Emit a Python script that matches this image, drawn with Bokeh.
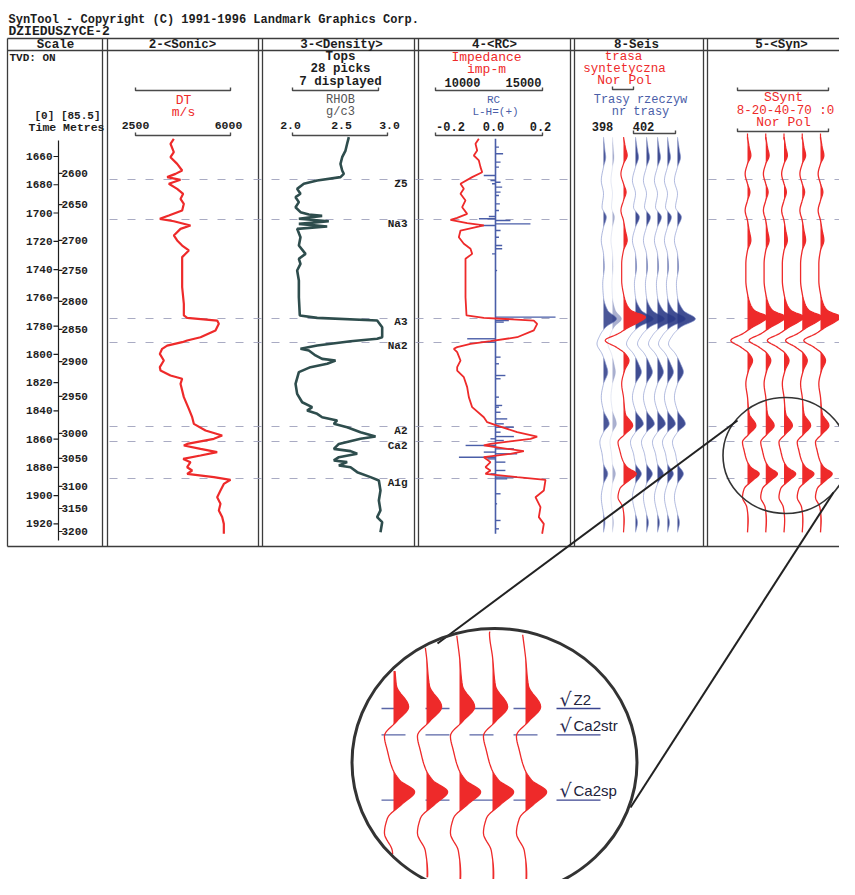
import numpy as np
from bokeh.plotting import figure
from bokeh.models import Range1d
from bokeh.core.properties import value
from bokeh.embed import file_html
from bokeh.resources import INLINE

# ---------------- data ----------------
TITLE = "SynTool - Copyright (C) 1991-1996 Landmark Graphics Corp."
WELL = "DZIEDUSZYCE-2"
TRACK_TITLES = ["Scale", "2-<Sonic>", "3-<Density>", "4-<RC>", "8-Seis", "5-<Syn>"]

TIME_TICKS = [1660, 1680, 1700, 1720, 1740, 1760, 1780, 1800, 1820, 1840, 1860, 1880, 1900, 1920]
TIME_LABELS = [str(v) for v in TIME_TICKS]
DEPTH_LABELS = ["2600", "2650", "2700", "2750", "2800", "2850", "2900", "2950",
                "3000", "3050", "3100", "3150", "3200"]
DEPTH_TIMES = [1672.0, 1694.0, 1719.4, 1740.6, 1762.6, 1782.4, 1805.1, 1829.8,
               1856.0, 1873.7, 1893.5, 1909.1, 1925.4]

TOP_NAMES = ["Z5", "Na3", "A3", "Na2", "A2", "Ca2", "A1g"]
TOP_TIMES = [1676.3, 1704.6, 1774.6, 1791.6, 1851.1, 1861.7, 1887.9]
ZOOM_TOP_NAMES = ["Z2", "Ca2str", "Ca2sp"]

DT_TIME = [1647.5, 1651.0, 1656.9, 1660.5, 1665.2, 1669.9, 1672.3, 1674.6, 1676.5, 1679.3,
           1682.9, 1686.4, 1690.0, 1693.5, 1698.2, 1701.8, 1704.1, 1705.8, 1708.8, 1711.2,
           1715.9, 1719.4, 1723.0, 1726.5, 1731.2, 1740.7, 1752.5, 1764.3, 1772.5, 1774.2,
           1776.1, 1778.4, 1783.1, 1787.9, 1790.2, 1791.4, 1793.8, 1796.1, 1799.7, 1804.4,
           1809.1, 1811.5, 1815.0, 1817.3, 1820.9, 1830.3, 1838.6, 1844.5, 1849.2, 1853.9,
           1857.5, 1859.8, 1863.4, 1864.5, 1866.9, 1869.2, 1871.6, 1874.0, 1876.3, 1879.9,
           1882.2, 1884.6, 1886.9, 1888.8, 1891.7, 1896.4, 1901.1, 1905.8, 1910.5, 1915.2,
           1920.0, 1927.0]
DT_VALUE = [3912, 3789, 3912, 3789, 4035, 4219, 3974, 3667, 4158, 3728,
            4035, 4256, 4158, 4281, 4219, 3728, 3396, 3912, 4526, 4158,
            3912, 4035, 4219, 4465, 4219, 4219, 4219, 4281, 4281, 4403,
            5509, 5570, 5447, 4895, 4403, 4219, 3667, 3482, 3396, 3544,
            3396, 3421, 3789, 4219, 4158, 4281, 4465, 4588, 4649, 5079,
            5693, 5386, 4403, 4281, 4895, 5509, 4895, 4256, 4526, 4403,
            4588, 4403, 5386, 6000, 5754, 5631, 5509, 5631, 5570, 5693,
            5754, 5754]

RHOB_TIME = [1646.3, 1651.0, 1655.8, 1660.5, 1665.2, 1669.9, 1672.3, 1674.6, 1677.0, 1679.3,
             1682.9, 1686.4, 1688.8, 1692.3, 1695.9, 1699.4, 1701.1, 1702.0, 1704.1, 1705.8,
             1707.7, 1709.5, 1711.2, 1717.1, 1723.0, 1728.9, 1732.4, 1736.0, 1740.7, 1747.8,
             1759.6, 1772.5, 1774.2, 1776.1, 1780.8, 1787.9, 1789.0, 1790.7, 1793.8, 1796.1,
             1797.3, 1800.8, 1803.2, 1804.4, 1806.7, 1809.1, 1812.6, 1820.9, 1828.0, 1833.9,
             1837.4, 1839.8, 1842.1, 1844.5, 1846.8, 1849.2, 1851.6, 1855.1, 1858.2, 1859.8,
             1863.4, 1866.9, 1868.5, 1870.4, 1872.8, 1875.1, 1876.3, 1878.7, 1879.9, 1883.4,
             1886.9, 1889.3, 1896.4, 1903.5, 1910.5, 1915.2, 1918.8, 1925.9]
RHOB_VALUE = [2.593, 2.575, 2.558, 2.523, 2.505, 2.523, 2.540, 2.505, 2.260, 2.119,
              2.049, 2.084, 2.032, 2.067, 2.032, 2.084, 2.172, 2.312, 2.067, 2.382,
              2.067, 2.365, 2.049, 2.084, 2.067, 2.137, 2.067, 2.084, 2.049, 2.067,
              2.067, 2.077, 2.260, 2.891, 2.944, 2.944, 2.891, 2.611, 2.260, 2.084,
              2.172, 2.242, 2.312, 2.453, 2.365, 2.189, 2.067, 2.032, 2.049, 2.102,
              2.207, 2.154, 2.260, 2.312, 2.470, 2.435, 2.575, 2.716, 2.874, 2.716,
              2.488, 2.435, 2.611, 2.681, 2.488, 2.435, 2.575, 2.488, 2.611, 2.681,
              2.821, 2.909, 2.926, 2.909, 2.926, 2.891, 2.944, 2.926]

IMP_TIME = [1647.5, 1651.0, 1655.8, 1659.3, 1662.8, 1667.5, 1671.1, 1674.6, 1679.3, 1682.9,
            1686.4, 1691.1, 1695.9, 1700.6, 1703.4, 1704.8, 1707.2, 1708.8, 1712.4, 1717.1,
            1721.8, 1725.3, 1728.9, 1732.4, 1740.7, 1759.6, 1772.5, 1774.2, 1776.1, 1778.4,
            1783.1, 1787.9, 1790.7, 1792.6, 1794.9, 1796.1, 1798.5, 1804.4, 1809.1, 1811.5,
            1816.2, 1823.2, 1830.3, 1837.4, 1844.5, 1848.0, 1850.4, 1855.1, 1858.2, 1859.8,
            1863.4, 1864.5, 1866.9, 1868.5, 1870.4, 1872.8, 1876.3, 1879.9, 1882.2, 1884.6,
            1886.9, 1888.8, 1896.4, 1901.1, 1908.2, 1915.2, 1920.0, 1927.0]
IMP_VALUE = [11339, 11065, 11202, 10929, 11339, 11475, 11612, 10792, 9836, 10109,
             9836, 10246, 9973, 10382, 9563, 9016, 10382, 11748, 9836, 9699,
             10109, 10656, 10792, 10246, 10246, 10246, 10328, 11748, 15846, 16120,
             15846, 14480, 12295, 10656, 9563, 9290, 9563, 9836, 9563, 9563,
             10109, 10382, 10519, 10792, 11748, 12022, 12841, 14480, 16120, 15573,
             12295, 11748, 13661, 15027, 13934, 11748, 12295, 11885, 12295, 11885,
             14480, 16803, 16666, 15983, 16393, 16256, 16666, 16530]

RC_TIME = [1653.4, 1658.1, 1664.0, 1667.5, 1673.4, 1677.0, 1678.2, 1679.3, 1681.7, 1685.2,
           1687.6, 1693.5, 1698.2, 1702.5, 1704.1, 1705.3, 1707.7, 1708.8, 1712.4, 1717.1,
           1723.0, 1725.3, 1728.9, 1740.7, 1773.7, 1776.1, 1777.2, 1789.0, 1791.4, 1802.0,
           1806.7, 1815.0, 1817.3, 1830.3, 1836.2, 1837.4, 1841.0, 1845.7, 1849.2, 1851.6,
           1855.1, 1858.2, 1859.8, 1861.0, 1864.5, 1866.9, 1869.2, 1870.4, 1872.8, 1874.0,
           1876.3, 1882.2, 1884.6, 1886.9, 1888.1, 1898.7, 1905.8, 1917.6, 1923.5]
RC_VALUE = [0.015, 0.033, 0.022, 0.015, -0.051, -0.022, 0.022, -0.015, 0.029, 0.022,
            0.015, 0.019, 0.015, -0.029, -0.072, 0.065, 0.152, -0.072, 0.022, 0.015,
            0.029, 0.029, -0.015, 0.007, 0.261, 0.058, 0.036, -0.123, -0.065, 0.022,
            0.015, 0.043, 0.022, 0.015, 0.029, 0.015, 0.022, 0.051, 0.036, 0.080,
            0.022, 0.080, -0.022, 0.036, -0.130, 0.080, -0.051, 0.094, -0.159, -0.036,
            0.043, 0.043, -0.022, 0.094, 0.051, 0.022, 0.007, 0.022, 0.015]

SYN_TIME = [1646.3, 1653.4, 1659.3, 1665.2, 1672.3, 1679.3, 1685.2, 1691.1, 1698.2, 1705.3,
            1712.4, 1719.4, 1726.5, 1736.0, 1747.8, 1757.2, 1765.4, 1769.0, 1773.7, 1777.2,
            1780.8, 1785.5, 1790.2, 1794.9, 1799.7, 1804.4, 1811.5, 1820.9, 1830.3, 1842.1,
            1850.4, 1856.3, 1862.2, 1868.1, 1875.1, 1879.9, 1884.6, 1889.3, 1895.2, 1901.1,
            1908.2, 1917.6, 1926.0]
SYN_AMP = [0.0, 0.083, 0.167, 0.0, -0.117, 0.0, 0.117, 0.0, -0.117, 0.0,
           0.083, 0.167, 0.0, -0.083, -0.083, 0.0, 0.167, 0.35, 1.0, 0.7,
           0.25, -0.25, -0.833, -0.333, 0.083, 0.25, 0.05, -0.083, 0.0, 0.083,
           0.417, 0.083, -0.25, -0.167, -0.033, 0.167, 0.583, 0.25, -0.167, -0.25,
           -0.033, 0.033, 0.0]

REAL_TIME = [1646.3, 1655.8, 1660.5, 1667.5, 1677.0, 1686.4, 1695.9, 1702.9, 1710.0, 1719.4,
             1728.9, 1738.3, 1750.1, 1759.6, 1769.0, 1774.9, 1780.8, 1786.7, 1792.6, 1799.7,
             1806.7, 1812.6, 1820.9, 1830.3, 1839.8, 1849.2, 1855.1, 1862.2, 1870.4, 1877.5,
             1884.6, 1891.7, 1901.1, 1912.9, 1919.0, 1926.0]
REAL_AMP = [0.0, 0.11, 0.17, 0.0, -0.17, 0.0, -0.11, 0.22, 0.0, -0.17,
            0.0, 0.06, -0.06, 0.0, 0.33, 1.0, 0.17, -0.28, -0.5, -0.11,
            0.17, 0.33, 0.0, -0.17, 0.0, 0.44, 0.0, -0.28, -0.11, 0.0,
            0.33, 0.0, -0.17, 0.0, 0.11, 0.0]

# ---------------- layout / styles ----------------
W, H = 839, 879
X0, Y0 = 0, 0          # picture pixel of the plot's top-left corner
RED = "#ee2a2a"
BLUE = "#4a5ea8"
INK = "#1d1d1d"
FRAME = "#3c3c3c"
FONT = value("Liberation Mono")

Y_1660, PX_PER_MS = 156.0, 1.413  # picture y of 1660 ms, pixels per ms


def t_at(y):
    return 1660 + (y - Y_1660) / PX_PER_MS


def xr(v1, x1, v2, x2):
    k = (v2 - v1) / (x2 - x1)
    return Range1d(v1 + (X0 - x1) * k, v1 + (X0 + W - x1) * k)


p = figure(width=W, height=H, x_range=Range1d(X0, X0 + W), y_range=Range1d(Y0 + H, Y0),
           output_backend="svg", toolbar_location=None, min_border=0,
           x_axis_type=None, y_axis_type=None)
p.outline_line_color = None
p.grid.visible = False
p.background_fill_color = "white"
p.border_fill_color = "white"

p.extra_y_ranges["time"] = Range1d(t_at(Y0 + H), t_at(Y0))
p.extra_x_ranges["dt"] = xr(2500, 135, 6000, 230)
p.extra_x_ranges["rhob"] = xr(2.0, 292, 3.0, 387)
p.extra_x_ranges["imp"] = xr(10000, 462, 15000, 523)
p.extra_x_ranges["rc"] = xr(-0.2, 449, 0.2, 541)
p.extra_x_ranges["seis"] = xr(0, 603, 1, 613)
p.extra_x_ranges["syn"] = xr(1, 747, 5, 820)
p.extra_x_ranges["zx"] = xr(1, 393, 5, 525)
Z_Y_REF, Z_PX_PER_MS = 708.0, 2.49
T_REF = TOP_TIMES[4]
p.extra_y_ranges["zt"] = Range1d(T_REF + (Y0 + H - Z_Y_REF) / Z_PX_PER_MS,
                                 T_REF + (Y0 - Z_Y_REF) / Z_PX_PER_MS)


def T(x, y, s, size=12, color=INK, align="center", bold=True, font=FONT,
      xrn="default", yrn="default", baseline="middle", yoff=0):
    p.text(x=[x], y=[y], text=[s], text_font=font, text_font_size=f"{size}px",
           text_font_style="bold" if bold else "normal", text_color=color,
           text_align=align, text_baseline=baseline, y_offset=yoff,
           x_range_name=xrn, y_range_name=yrn)


def bracket(x1, x2, y, color="#4a4a4a"):
    p.line([x1, x1, x2, x2], [y - 3, y, y, y - 3], line_color=color, line_width=1.4)


def pchip_curve(t, a, n=8):
    """Smooth monotone-cubic drawing path through the read samples (rendering only)."""
    t = np.asarray(t, float)
    a = np.asarray(a, float)
    h = np.diff(t)
    d = np.diff(a) / h
    m = np.zeros_like(a)
    m[0], m[-1] = d[0], d[-1]
    for k in range(1, len(a) - 1):
        if d[k - 1] * d[k] > 0:
            w1 = 2 * h[k] + h[k - 1]
            w2 = h[k] + 2 * h[k - 1]
            m[k] = (w1 + w2) / (w1 / d[k - 1] + w2 / d[k])
    tt, aa = [], []
    for k in range(len(h)):
        s = np.linspace(0, 1, n, endpoint=False)
        h00 = 2 * s ** 3 - 3 * s ** 2 + 1
        h10 = s ** 3 - 2 * s ** 2 + s
        h01 = -2 * s ** 3 + 3 * s ** 2
        h11 = s ** 3 - s ** 2
        tt.extend(t[k] + s * h[k])
        aa.extend(h00 * a[k] + h10 * h[k] * m[k] + h01 * a[k + 1] + h11 * h[k] * m[k + 1])
    tt.append(t[-1])
    aa.append(a[-1])
    return np.array(tt), np.array(aa)


def with_crossings(t, a):
    tt, aa = [t[0]], [a[0]]
    for i in range(1, len(t)):
        if a[i - 1] * a[i] < 0:
            tc = t[i - 1] + (t[i] - t[i - 1]) * a[i - 1] / (a[i - 1] - a[i])
            tt.append(tc)
            aa.append(0.0)
        tt.append(t[i])
        aa.append(a[i])
    return np.array(tt), np.array(aa)


def wiggle(xpos, times, amps, gain, xrn, yrn, lcolor, fcolor, lw=1.2, lalpha=1.0, falpha=1.0):
    t, a = pchip_curve(times, amps)
    t, a = with_crossings(list(t), list(a))
    p.harea(x1=np.full(len(t), float(xpos)), x2=xpos + np.clip(a, 0, None) * gain, y=t,
            fill_color=fcolor, fill_alpha=falpha, x_range_name=xrn, y_range_name=yrn)
    p.line(xpos + a * gain, t, line_color=lcolor, line_width=lw, line_alpha=lalpha,
           x_range_name=xrn, y_range_name=yrn)


# ---------------- title ----------------
T(8, 19, TITLE, 12, align="left")
T(8, 31, WELL, 13, align="left")

# ---------------- frame ----------------
TOP_Y, HEAD_Y, BOT_Y = 38, 50, 546
border_x = [7, 102, 107, 258, 262, 414, 418, 570, 574, 703, 707]
p.segment(x0=border_x, y0=[TOP_Y] * len(border_x), x1=border_x, y1=[BOT_Y] * len(border_x),
          line_color=FRAME, line_width=1.3)
p.segment(x0=[7, 7, 7], y0=[TOP_Y, HEAD_Y, BOT_Y], x1=[X0 + W] * 3, y1=[TOP_Y, HEAD_Y, BOT_Y],
          line_color=FRAME, line_width=1.3)
for cx, name in zip([55, 182, 341, 494, 636, 781], TRACK_TITLES):
    T(cx, 44, name, 12.5)

# ---------------- headers ----------------
T(9, 57, "TVD: ON", 11, align="left")
T(100, 115, "[0] [85.5]", 11, align="right")
T(104, 127, "Time Metres", 11.5, align="right")

bracket(135, 230, 90)
T(183, 100, "DT", 13, RED, bold=False)
T(183, 112, "m/s", 13, RED, bold=False)
T(135, 125, "2500", 11.5)
T(228, 125, "6000", 11.5)
bracket(135, 230, 135)

T(340, 56, "Tops", 12.5)
T(340, 68, "28 picks", 12.5)
T(340, 81, "7 displayed", 12.5)
bracket(292, 378, 90)
T(340, 99, "RHOB", 12, "#555555", bold=False)
T(340, 111, "g/c3", 12, "#555555", bold=False)
T(290, 125, "2.0", 11.5)
T(341, 125, "2.5", 11.5)
T(389, 125, "3.0", 11.5)
bracket(292, 387, 135)

T(486, 57, "Impedance", 13, RED, bold=False)
T(486, 69, "imp-m", 13, RED, bold=False)
T(462, 82, "10000", 12)
T(523, 82, "15000", 12)
bracket(435, 542, 90)
T(493, 99, "RC", 11, BLUE, bold=False)
T(495, 111, "L-H=(+)", 11, BLUE, bold=False)
T(450, 126, "-0.2", 12)
T(493, 126, "0.0", 12)
T(540, 126, "0.2", 12)
bracket(435, 542, 135)

T(623, 56, "trasa", 12.5, RED, bold=False)
T(624, 68, "syntetyczna", 12.5, RED, bold=False)
T(624, 80, "Nor Pol", 13, RED, bold=False)
bracket(612, 633, 89)
T(640, 99, "Trasy rzeczyw", 12, BLUE, bold=False)
T(640, 111, "nr trasy", 12, BLUE, bold=False)
T(602, 126, "398", 12)
T(643, 126, "402", 12)
bracket(633, 675, 133)

bracket(737, 828, 90)
T(783, 97, "SSynt", 13, RED, bold=False)
T(785, 110, "8-20-40-70 :0", 12.5, RED, bold=False)
T(783, 122, "Nor Pol", 13, RED, bold=False)
bracket(737, 828, 131)
SYN_POS = [1, 2, 3, 4, 5]
p.segment(x0=SYN_POS, x1=SYN_POS, y0=[133] * 5, y1=[139] * 5, line_color=RED,
          line_width=1.2, x_range_name="syn")

# ---------------- scale column ----------------
p.segment(x0=[58], y0=[140], x1=[58], y1=[540], line_color=INK, line_width=1.2)
p.segment(x0=[53] * len(TIME_TICKS), x1=[58] * len(TIME_TICKS), y0=TIME_TICKS, y1=TIME_TICKS,
          line_color=INK, line_width=1.2, y_range_name="time")
p.segment(x0=[58] * len(DEPTH_TIMES), x1=[62] * len(DEPTH_TIMES), y0=DEPTH_TIMES, y1=DEPTH_TIMES,
          line_color=INK, line_width=1.2, y_range_name="time")
p.text(x=[52] * len(TIME_TICKS), y=TIME_TICKS, text=TIME_LABELS, text_font=FONT,
       text_font_size="11px", text_font_style="bold", text_color=INK, text_align="right",
       text_baseline="middle", y_range_name="time")
p.text(x=[61] * len(DEPTH_TIMES), y=DEPTH_TIMES, text=DEPTH_LABELS, text_font=FONT,
       text_font_size="11px", text_font_style="bold", text_color=INK, text_align="left",
       text_baseline="middle", y_range_name="time")

# ---------------- horizon dashes ----------------
n = len(TOP_TIMES)
p.segment(x0=[109] * n + [708] * n, x1=[569] * n + [X0 + W] * n,
          y0=TOP_TIMES * 2, y1=TOP_TIMES * 2, line_color="#9a9cb8", line_width=1.1,
          line_alpha=0.85, line_dash="8 10", y_range_name="time")
p.text(x=[407] * n, y=TOP_TIMES, text=TOP_NAMES, text_font=FONT, text_font_size="11px",
       text_font_style="bold", text_color=INK, text_align="right", text_baseline="middle",
       y_offset=4, y_range_name="time")

# ---------------- logs ----------------
p.line(DT_VALUE, DT_TIME, line_color=RED, line_width=2.2, x_range_name="dt", y_range_name="time")
p.line(RHOB_VALUE, RHOB_TIME, line_color="#2e4d4d", line_width=2.6,
       x_range_name="rhob", y_range_name="time")
p.segment(x0=[0.0], x1=[0.0], y0=[min(DT_TIME)], y1=[max(DT_TIME)], line_color=BLUE,
          line_width=1.6, x_range_name="rc", y_range_name="time")
p.segment(x0=[0.0] * len(RC_VALUE), x1=RC_VALUE, y0=RC_TIME, y1=RC_TIME, line_color=BLUE,
          line_width=1.4, x_range_name="rc", y_range_name="time")
p.line(IMP_VALUE, IMP_TIME, line_color=RED, line_width=1.8, x_range_name="imp", y_range_name="time")

# ---------------- seismic ----------------
BLUE_L, BLUE_F = "#8593cc", "#2b3a86"
wiggle(0.0, REAL_TIME, REAL_AMP, 1.3, "seis", "time", BLUE_L, BLUE_F, 0.9, 0.75, 0.85)
wiggle(0.9, REAL_TIME, REAL_AMP, 0.9, "seis", "time", BLUE_L, BLUE_F, 0.7, 0.3, 0.4)
for xs in [3.2, 4.3, 5.4, 6.4, 7.4]:
    wiggle(xs, REAL_TIME, REAL_AMP, 1.8, "seis", "time", BLUE_L, BLUE_F, 0.9, 0.7, 0.9)
wiggle(2.0, SYN_TIME, SYN_AMP, 2.2, "seis", "time", RED, RED, 1.2)

for xs in SYN_POS:
    wiggle(xs, SYN_TIME, SYN_AMP, 1.1, "syn", "time", RED, RED, 1.3)

# ---------------- magnifier ----------------
CX, CY, EA, EB = 494.0, 762.0, 142.5, 134.0
p.ellipse(x=[785], y=[455], width=125, height=116, fill_color=None, line_color="#333333",
          line_width=1.6)
p.segment(x0=[737, 833], y0=[420, 492], x1=[437, 630], y1=[643, 807], line_color="#222222",
          line_width=2)

zt_times = [TOP_TIMES[4], TOP_TIMES[5], TOP_TIMES[6]]
p.segment(x0=[381] * 3, x1=[553] * 3, y0=zt_times, y1=zt_times, line_color="#5a66a6",
          line_width=1.4, line_dash="24 20", y_range_name="zt")
p.segment(x0=[556] * 3, x1=[600] * 3, y0=zt_times, y1=zt_times, line_color="#3b4590",
          line_width=1.4, y_range_name="zt")
for zname, zt in zip(ZOOM_TOP_NAMES, zt_times):
    T(565, zt, "\u221a", 19, "#2a2a50", bold=False, font=value("DejaVu Sans"),
      yrn="zt", baseline="bottom", yoff=1)
    T(573, zt, zname, 15, "#22223a", align="left", bold=False, font=value("Liberation Sans"),
      yrn="zt", baseline="bottom", yoff=-1)

for k in SYN_POS:
    xp = 393 + (k - 1) * 33
    h = EB * np.sqrt(1 - ((xp - CX) / EA) ** 2) - 3
    t_top = T_REF + (CY - h - Z_Y_REF) / Z_PX_PER_MS
    t_bot = T_REF + (CY + h - Z_Y_REF) / Z_PX_PER_MS
    inner = [t for t in SYN_TIME if t_top + 0.5 < t < t_bot - 0.5]
    tt = [t_top] + inner + [t_bot]
    aa = list(np.interp(tt, SYN_TIME, SYN_AMP))
    wiggle(k, tt, aa, 1.1, "zx", "zt", RED, RED, 1.3)

p.ellipse(x=[CX], y=[CY], width=2 * EA, height=2 * EB, fill_color=None, line_color="#333333",
          line_width=3)

open("out.html", "w").write(file_html(p, INLINE))
